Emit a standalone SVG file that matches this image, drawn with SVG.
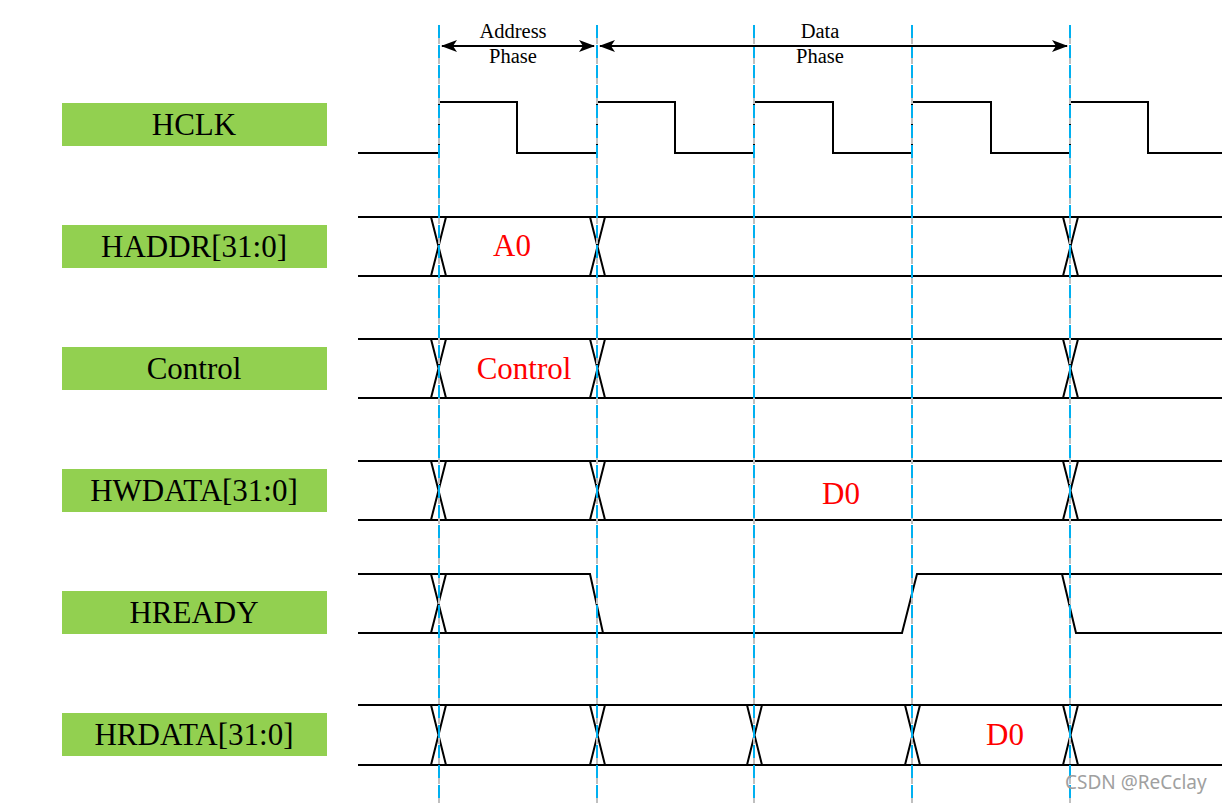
<svg xmlns="http://www.w3.org/2000/svg" width="1223" height="803" viewBox="0 0 1223 803">
<style>
.lbl rect{fill:#92D050}
.serif{font-family:'Liberation Serif','Times New Roman','DejaVu Serif',serif}
.lbl text{font-size:31px;fill:#000;text-anchor:middle}
.sig{stroke:#000;stroke-width:2;fill:none}
.val{font-size:31px;fill:#FF0000;text-anchor:middle}
.ph{font-size:20.5px;fill:#000;text-anchor:middle}
.guide{stroke:#00B0F0;stroke-width:2;stroke-dasharray:13 7;fill:none}
.guideg{stroke:#BFBFBF;stroke-width:2;fill:none}
</style>
<defs>
<marker id="ah" markerWidth="16" markerHeight="12" refX="15" refY="6" orient="auto-start-reverse" markerUnits="userSpaceOnUse">
<path d="M0,0 L16,6 L0,12 L4,6 Z" fill="#000"/>
</marker>
</defs>
<rect width="1223" height="803" fill="#fff"/>

<g id="label-hclk" class="lbl"><rect x="62" y="103" width="265" height="43"/><text class="serif" x="194" y="135">HCLK</text></g>
<g id="label-haddr" class="lbl"><rect x="62" y="225" width="265" height="43"/><text class="serif" x="194" y="257">HADDR[31:0]</text></g>
<g id="label-control" class="lbl"><rect x="62" y="347" width="265" height="43"/><text class="serif" x="194" y="379">Control</text></g>
<g id="label-hwdata" class="lbl"><rect x="62" y="469" width="265" height="43"/><text class="serif" x="194" y="501">HWDATA[31:0]</text></g>
<g id="label-hready" class="lbl"><rect x="62" y="591" width="265" height="43"/><text class="serif" x="194" y="623">HREADY</text></g>
<g id="label-hrdata" class="lbl"><rect x="62" y="713" width="265" height="43"/><text class="serif" x="194" y="745">HRDATA[31:0]</text></g>

<g id="wave-hclk">
<polyline class="sig" points="358,153 439,153 439,102 517,102 517,153 597,153 597,102 675,102 675,153 754,153 754,102 833,102 833,153 912,153 912,102 991,102 991,153 1070,153 1070,102 1148,102 1148,153 1222,153"/>
</g>

<g id="wave-haddr" class="sig">
<path d="M358,217H1222M358,276H1222"/>
<path d="M431,217L446,276M446,217L431,276M590,217L605,276M605,217L590,276M1063,217L1078,276M1078,217L1063,276"/>
</g>
<text class="val serif" x="512" y="256">A0</text>

<g id="wave-control" class="sig">
<path d="M358,339H1222M358,398H1222"/>
<path d="M431,339L446,398M446,339L431,398M590,339L605,398M605,339L590,398M1063,339L1078,398M1078,339L1063,398"/>
</g>
<text class="val serif" x="524" y="379">Control</text>

<g id="wave-hwdata" class="sig">
<path d="M358,461H1222M358,520H1222"/>
<path d="M431,461L446,520M446,461L431,520M590,461L605,520M605,461L590,520M1063,461L1078,520M1078,461L1063,520"/>
</g>
<text class="val serif" x="841" y="504">D0</text>

<g id="wave-hready" class="sig">
<path d="M358,574H590L603,633M358,633H902L917,574H1222M1062,574L1076,633H1222"/>
<path d="M431,574L446,633M446,574L431,633"/>
</g>

<g id="wave-hrdata" class="sig">
<path d="M358,705H1222M358,765H1222"/>
<path d="M431,705L446,765M446,705L431,765M590,705L605,765M605,705L590,765M747,705L762,765M762,705L747,765M905,705L920,765M920,705L905,765M1063,705L1078,765M1078,705L1063,765"/>
</g>
<text class="val serif" x="1005" y="745">D0</text>

<g id="connectors">
<path class="guideg" d="M439,25V803M597,25V803M754,25V803M912,25V803M1070,25V803" stroke-dasharray="6 14" stroke-dashoffset="-13"/>
<path class="guide" d="M439,25V803M597,25V803M754,25V803M912,25V803M1070,25V803"/>
<line x1="442" y1="46" x2="594" y2="46" stroke="#000" stroke-width="2" marker-start="url(#ah)" marker-end="url(#ah)"/>
<line x1="600" y1="46" x2="1067" y2="46" stroke="#000" stroke-width="2" marker-start="url(#ah)" marker-end="url(#ah)"/>
</g>
<text class="ph serif" x="513" y="38">Address</text>
<text class="ph serif" x="513" y="63">Phase</text>
<text class="ph serif" x="820" y="38">Data</text>
<text class="ph serif" x="820" y="63">Phase</text>

<text x="1065" y="789" font-family="'Noto Sans','DejaVu Sans',sans-serif" font-size="19" fill="#A0A0A0">CSDN @ReCclay</text>
</svg>
